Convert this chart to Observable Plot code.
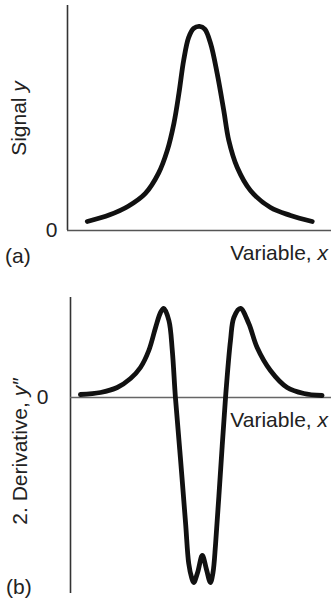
<!DOCTYPE html>
<html><head><meta charset="utf-8">
<script src="https://cdn.jsdelivr.net/npm/d3@7"></script>
<script src="https://cdn.jsdelivr.net/npm/@observablehq/plot@0.6"></script>
<style>
body{margin:0;background:#fff;}
#wrap{position:relative;width:331px;height:601px;font-family:"Liberation Sans",Arial,sans-serif;color:#222;overflow:hidden;}
.p{position:absolute;left:0;}
.t{position:absolute;font-size:21px;line-height:21px;white-space:nowrap;}
.r{width:200px;text-align:center;transform:rotate(-90deg);}
</style></head><body>
<div id="wrap">
  <div class="p" id="pa" style="top:0px"></div>
  <div class="p" id="pb" style="top:290px"></div>
  <div class="t r" style="left:-82px;top:108px">Signal <i>y</i></div>
  <div class="t r" style="left:-81px;top:441px">2. Derivative, <i>y″</i></div>
  <div class="t" style="left:5px;top:245px">(a)</div>
  <div class="t" style="right:3px;top:242px">Variable, <i>x</i></div>
  <div class="t" style="left:6px;top:576px">(b)</div>
  <div class="t" style="right:3px;top:409px">Variable, <i>x</i></div>
</div>
<script>
// Panel (a): signal y vs variable x
const signalX = [7.5, 16.0, 23.0, 29.5, 34.5, 37.8, 40.3, 42.2, 44.0, 45.9, 47.8, 50.0, 52.0, 54.2, 56.7, 59.2, 61.1, 64.3, 69.3, 76.9, 84.5, 92.7];
const signalY = [4.0, 7.0, 10.8, 16.5, 25.5, 35.6, 47.6, 60.9, 75.6, 85.8, 89.8, 90.7, 89.5, 83.1, 69.8, 53.3, 40.0, 28.0, 17.8, 10.2, 6.7, 4.0];
// Panel (b): second derivative y'' vs variable x
const derivX = [3.8, 11.5, 17.9, 23.0, 26.8, 30.0, 32.6, 34.5, 35.7, 37.7, 39.0, 40.2, 42.1, 44.1, 45.3, 46.4, 47.2, 48.7, 50.5, 52.1, 53.6, 54.6, 55.6, 57.5, 59.4, 61.3, 62.6, 65.1, 68.3, 71.5, 76.6, 83.0, 89.4, 96.4];
const derivY = [3, 5, 10, 19, 30, 47, 70, 85, 89, 77, 47, 0, -60, -126, -166, -180, -185, -175, -158, -172, -185, -175, -146, -73, 0, 57, 80, 89, 74, 50, 27, 10, 4, 2];
const yTicks = [0];

const signal = signalX.map((x, i) => ({x, y: signalY[i]}));
const deriv = derivX.map((x, i) => ({x, y: derivY[i]}));

const style = {fontSize: "21px", fontFamily: '"Liberation Sans", Arial, sans-serif', color: "#222", background: "transparent", overflow: "visible"};

const pa = Plot.plot({
  width: 331, height: 240,
  marginLeft: 67, marginRight: 0, marginTop: 5, marginBottom: 10,
  style,
  x: {domain: [0, 100], axis: null},
  y: {domain: [0, 100], ticks: yTicks, tickSize: 0, tickPadding: 10, label: null},
  marks: [
    Plot.ruleX([0], {stroke: "#333", strokeWidth: 1.6}),
    Plot.ruleY([0], {stroke: "#555", strokeWidth: 1.6}),
    Plot.line(signal, {x: "x", y: "y", curve: "catmull-rom", stroke: "#111", strokeWidth: 4.8, strokeLinecap: "round"})
  ]
});
document.getElementById("pa").appendChild(pa);

const pb = Plot.plot({
  width: 331, height: 311,
  marginLeft: 70, marginRight: 0, marginTop: 7, marginBottom: 8,
  style,
  x: {domain: [0, 100], axis: null},
  y: {domain: [-196, 100], ticks: yTicks, tickSize: 0, tickPadding: 22, label: null},
  marks: [
    Plot.ruleX([0], {stroke: "#333", strokeWidth: 1.6}),
    Plot.ruleY([0], {stroke: "#666", strokeWidth: 1.6}),
    Plot.line(deriv, {x: "x", y: "y", curve: "catmull-rom", stroke: "#111", strokeWidth: 4.8, strokeLinecap: "round"})
  ]
});
document.getElementById("pb").appendChild(pb);
</script>
</body></html>
